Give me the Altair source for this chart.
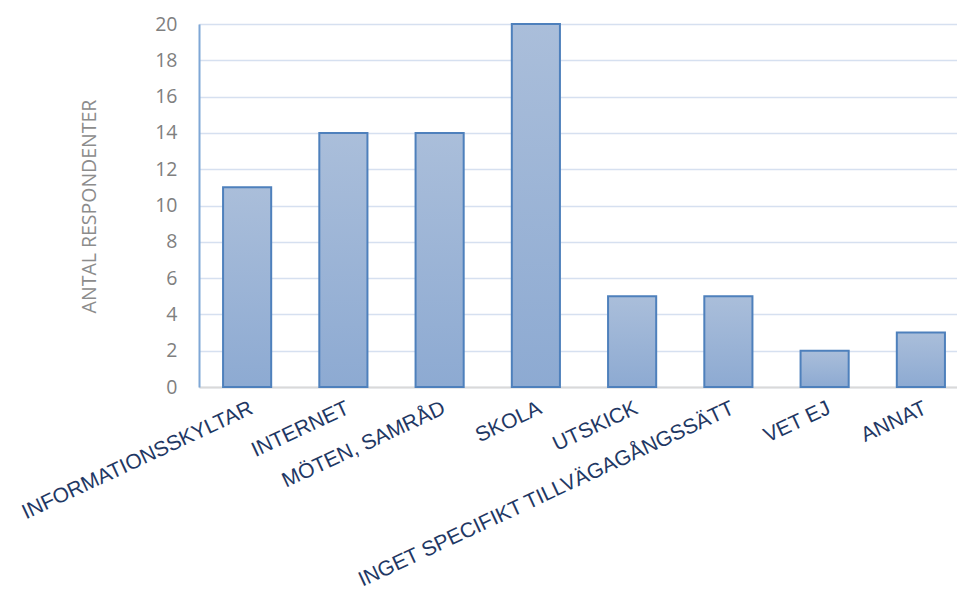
import altair as alt
import pandas as pd

categories = ["INFORMATIONSSKYLTAR", "INTERNET", "MÖTEN, SAMRÅD", "SKOLA",
              "UTSKICK", "INGET SPECIFIKT TILLVÄGAGÅNGSSÄTT", "VET EJ", "ANNAT"]
values = [11, 14, 14, 20, 5, 5, 2, 3]
y_ticks = [0, 2, 4, 6, 8, 10, 12, 14, 16, 18, 20]

df = pd.DataFrame({"cat": categories, "val": values})

grad = alt.Gradient(
    gradient="linear",
    stops=[alt.GradientStop(color="#AABEDA", offset=0),
           alt.GradientStop(color="#8DAAD2", offset=1)],
    x1=0, x2=0, y1=0, y2=1,
)

bars = alt.Chart(df).mark_bar(
    fill=grad, stroke="#4E80BC", strokeWidth=2
).encode(
    x=alt.X("cat:N", sort=None,
            scale=alt.Scale(range=[0, 770], paddingInner=0.5, paddingOuter=0.25),
            axis=alt.Axis(title=None, labelAngle=-25, labelAlign="right",
                          labelBaseline="top", labelPadding=10,
                          labelFont="Liberation Sans", labelFontSize=21,
                          labelColor="#1F3864", ticks=False,
                          domainColor="#D9D9D9", domainWidth=2,
                          labelOverlap=False, labelLimit=0)),
    y=alt.Y("val:Q",
            scale=alt.Scale(domain=[0, 20], nice=False),
            axis=alt.Axis(title="ANTAL RESPONDENTER", values=y_ticks,
                          ticks=False, domainColor="#7FA7D6", domainWidth=2,
                          gridColor="#D6E0F0", gridWidth=1.5,
                          labelFont="Open Sans", labelFontSize=19.5,
                          labelColor="#7F7F7F", labelPadding=22,
                          titleFont="Open Sans", titleFontSize=19.5,
                          titleFontWeight="normal", titleColor="#8C8C8C",
                          titleX=-104, titleY=182, titleAngle=-90,
                          titleAlign="center", titleBaseline="alphabetic")),
)

chart = bars.properties(
    width=758, height=363,
    autosize=alt.AutoSizeParams(type="none"),
    padding={"left": 191, "top": 16, "right": 0, "bottom": 213},
).configure_view(stroke=None).configure(background="white")

chart.save("out.html", embed_options={"renderer": "svg", "actions": False})
